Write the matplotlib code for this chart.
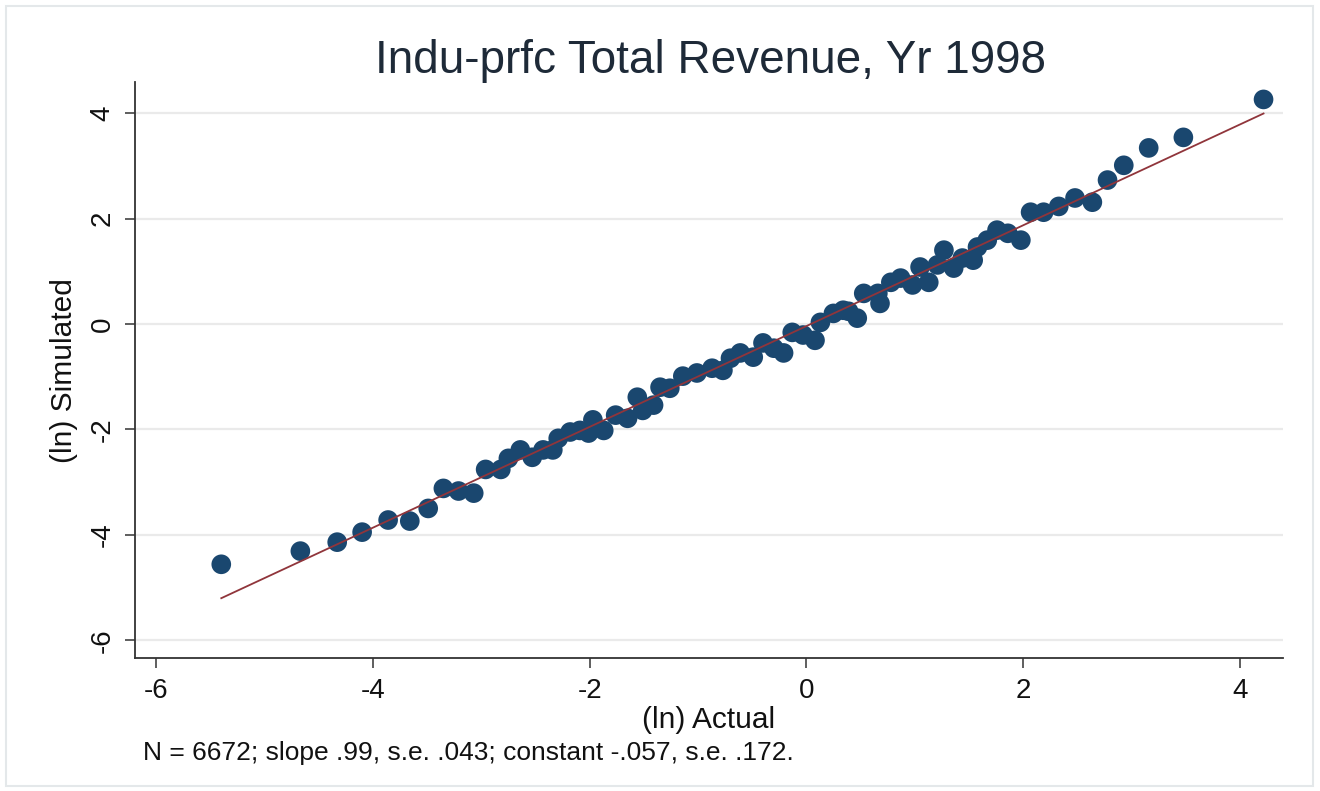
import matplotlib.pyplot as plt
import numpy as np
from matplotlib.patches import Rectangle

# binned means: (ln) actual vs (ln) simulated total revenue
actual = [-5.40, -4.67, -4.33, -4.10, -3.86, -3.66, -3.49, -3.35, -3.21, -3.07,
          -2.96, -2.82, -2.75, -2.64, -2.53, -2.43, -2.34, -2.29, -2.18, -2.09,
          -2.01, -1.97, -1.87, -1.76, -1.65, -1.56, -1.51, -1.41, -1.35, -1.26,
          -1.14, -1.01, -0.87, -0.77, -0.70, -0.61, -0.49, -0.40, -0.30, -0.21,
          -0.13, -0.03, 0.08, 0.13, 0.25, 0.34, 0.39, 0.47, 0.53, 0.66,
          0.68, 0.78, 0.87, 0.98, 1.05, 1.13, 1.21, 1.27, 1.36, 1.44,
          1.54, 1.58, 1.67, 1.76, 1.86, 1.98, 2.07, 2.19, 2.33, 2.48,
          2.64, 2.78, 2.93, 3.16, 3.48, 4.22]
simulated = [-4.56, -4.31, -4.14, -3.95, -3.72, -3.74, -3.50, -3.12, -3.17, -3.21,
             -2.76, -2.76, -2.55, -2.39, -2.53, -2.39, -2.39, -2.17, -2.05, -2.02,
             -2.07, -1.82, -2.02, -1.73, -1.79, -1.39, -1.64, -1.54, -1.20, -1.22,
             -0.99, -0.93, -0.84, -0.88, -0.65, -0.55, -0.63, -0.36, -0.46, -0.55,
             -0.16, -0.21, -0.31, 0.03, 0.20, 0.26, 0.24, 0.11, 0.58, 0.58,
             0.39, 0.79, 0.87, 0.74, 1.08, 0.79, 1.12, 1.40, 1.06, 1.25,
             1.21, 1.46, 1.59, 1.78, 1.72, 1.59, 2.12, 2.12, 2.23, 2.39,
             2.31, 2.73, 3.01, 3.34, 3.54, 4.26]

note = "N = 6672; slope .99, s.e. .043; constant -.057, s.e. .172."

plt.rcParams['font.family'] = ['Liberation Sans', 'DejaVu Sans']
plt.rcParams['axes.unicode_minus'] = False

fig = plt.figure(figsize=(13.2, 7.91), dpi=100)
ax = fig.add_axes([0.1023, 0.168, 0.8697, 0.7283])

x = np.array(actual)
y = np.array(simulated)

ax.scatter(x, y, s=200, color='#1a476f', edgecolors='none', zorder=3)

# linear fit over the bins
b, a = np.polyfit(x, y, 1)
xs = np.array([x.min(), x.max()])
ax.plot(xs, a + b * xs, color='#90353b', lw=1.3, zorder=4)

ax.set_xlim(-6.196, 4.40)
ax.set_ylim(-6.34, 4.59)
ax.set_xticks([-6, -4, -2, 0, 2, 4])
ax.set_yticks([-6, -4, -2, 0, 2, 4])
ax.yaxis.grid(True, color='#eaeaea', lw=1.6)
ax.set_axisbelow(True)

for side in ['top', 'right']:
    ax.spines[side].set_visible(False)
for side in ['left', 'bottom']:
    ax.spines[side].set_color('#333333')
    ax.spines[side].set_linewidth(1.3)

ax.tick_params(axis='both', direction='out', length=7, width=1.1, color='#333333',
               labelsize=20, labelcolor='#111111', pad=7)
plt.setp(ax.get_yticklabels(), rotation=90, va='center')

ax.set_xlabel('(ln) Actual', fontsize=21.5, color='#111111', labelpad=2)
ax.set_ylabel('(ln) Simulated', fontsize=21.5, color='#111111', labelpad=8)
fig.text(0.538, 0.908, 'Indu-prfc Total Revenue, Yr 1998', ha='center', va='baseline',
         fontsize=33, color='#1e2a38')
fig.text(0.108, 0.039, note, ha='left', va='baseline', fontsize=19, color='#111111')

fig.patches.append(Rectangle((0.0045, 0.006), 0.990, 0.987, transform=fig.transFigure,
                             fill=False, edgecolor='#e4e8ea', lw=1.5))

plt.savefig('out.png', dpi=100)
